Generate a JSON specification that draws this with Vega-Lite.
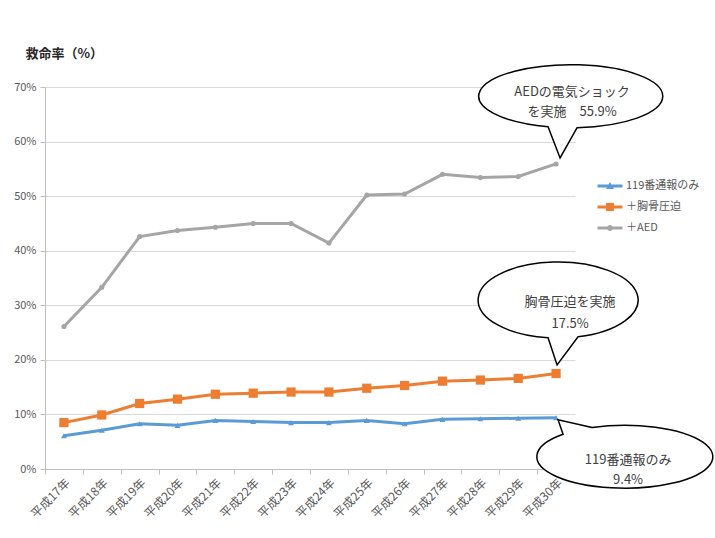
{
  "$schema": "https://vega.github.io/schema/vega-lite/v6.json",
  "width": 530,
  "height": 382,
  "autosize": {"type": "none"},
  "padding": {"left": 45, "top": 87, "right": 140, "bottom": 69},
  "background": "white",
  "config": {
    "view": {"stroke": null},
    "font": "Noto Sans CJK JP",
    "axis": {"labelColor": "#595959", "labelFontSize": 11, "domainColor": "#bfbfbf", "tickColor": "#bfbfbf", "tickSize": 5}
  },
  "data": {
    "values": [
      {"year": "平成17年", "series": "119番通報のみ", "value": 6.1},
      {"year": "平成18年", "series": "119番通報のみ", "value": 7.1},
      {"year": "平成19年", "series": "119番通報のみ", "value": 8.3},
      {"year": "平成20年", "series": "119番通報のみ", "value": 8.0},
      {"year": "平成21年", "series": "119番通報のみ", "value": 8.9},
      {"year": "平成22年", "series": "119番通報のみ", "value": 8.7},
      {"year": "平成23年", "series": "119番通報のみ", "value": 8.5},
      {"year": "平成24年", "series": "119番通報のみ", "value": 8.5},
      {"year": "平成25年", "series": "119番通報のみ", "value": 8.9},
      {"year": "平成26年", "series": "119番通報のみ", "value": 8.3},
      {"year": "平成27年", "series": "119番通報のみ", "value": 9.1},
      {"year": "平成28年", "series": "119番通報のみ", "value": 9.2},
      {"year": "平成29年", "series": "119番通報のみ", "value": 9.3},
      {"year": "平成30年", "series": "119番通報のみ", "value": 9.4},
      {"year": "平成17年", "series": "＋胸骨圧迫", "value": 8.5},
      {"year": "平成18年", "series": "＋胸骨圧迫", "value": 9.9},
      {"year": "平成19年", "series": "＋胸骨圧迫", "value": 12.0},
      {"year": "平成20年", "series": "＋胸骨圧迫", "value": 12.8},
      {"year": "平成21年", "series": "＋胸骨圧迫", "value": 13.7},
      {"year": "平成22年", "series": "＋胸骨圧迫", "value": 13.9},
      {"year": "平成23年", "series": "＋胸骨圧迫", "value": 14.1},
      {"year": "平成24年", "series": "＋胸骨圧迫", "value": 14.1},
      {"year": "平成25年", "series": "＋胸骨圧迫", "value": 14.8},
      {"year": "平成26年", "series": "＋胸骨圧迫", "value": 15.3},
      {"year": "平成27年", "series": "＋胸骨圧迫", "value": 16.1},
      {"year": "平成28年", "series": "＋胸骨圧迫", "value": 16.3},
      {"year": "平成29年", "series": "＋胸骨圧迫", "value": 16.6},
      {"year": "平成30年", "series": "＋胸骨圧迫", "value": 17.5},
      {"year": "平成17年", "series": "＋AED", "value": 26.1},
      {"year": "平成18年", "series": "＋AED", "value": 33.3},
      {"year": "平成19年", "series": "＋AED", "value": 42.6},
      {"year": "平成20年", "series": "＋AED", "value": 43.7},
      {"year": "平成21年", "series": "＋AED", "value": 44.3},
      {"year": "平成22年", "series": "＋AED", "value": 45.0},
      {"year": "平成23年", "series": "＋AED", "value": 45.0},
      {"year": "平成24年", "series": "＋AED", "value": 41.4},
      {"year": "平成25年", "series": "＋AED", "value": 50.2},
      {"year": "平成26年", "series": "＋AED", "value": 50.4},
      {"year": "平成27年", "series": "＋AED", "value": 54.0},
      {"year": "平成28年", "series": "＋AED", "value": 53.4},
      {"year": "平成29年", "series": "＋AED", "value": 53.6},
      {"year": "平成30年", "series": "＋AED", "value": 55.9}
    ]
  },
  "encoding": {
    "x": {
      "field": "year", "type": "ordinal", "sort": null,
      "scale": {"type": "band", "paddingInner": 0, "paddingOuter": 0},
      "axis": {"title": null, "labelAngle": -45, "tickBand": "extent", "grid": false, "labelPadding": 3, "labelFontSize": 12}
    },
    "y": {
      "field": "value", "type": "quantitative",
      "scale": {"domain": [0, 70], "nice": false},
      "axis": {
        "values": [0, 10, 20, 30, 40, 50, 60, 70],
        "labelExpr": "datum.value + '%'",
        "grid": true, "gridColor": "#d9d9d9",
        "labelPadding": 4,
        "title": "救命率（%）", "titleAngle": 0, "titleAlign": "left", "titleBaseline": "middle",
        "titleX": -20, "titleY": -34, "titleFontSize": 13, "titleFontWeight": "bold", "titleColor": "#262626"
      }
    }
  },
  "layer": [
    {
      "mark": {"type": "line", "strokeWidth": 3},
      "encoding": {
        "color": {
          "field": "series", "type": "nominal",
          "scale": {"domain": ["119番通報のみ", "＋胸骨圧迫", "＋AED"], "range": ["#5b9bd5", "#ed7d31", "#a5a5a5"]},
          "legend": {
            "title": null, "orient": "none", "legendX": 555, "legendY": 89,
            "symbolSize": 400, "labelOffset": 6, "rowPadding": 6, "labelFontSize": 11, "labelColor": "#595959",
            "encode": {
              "symbols": {
                "update": {
                  "shape": {"signal": "datum.value === '119番通報のみ' ? 'M-1.25,-0.15H1.25V0.15H-1.25Z M0,-0.4L0.4,0.3L-0.4,0.3Z' : datum.value === '＋胸骨圧迫' ? 'M-1.25,-0.15H1.25V0.15H-1.25Z M-0.4,-0.4H0.4V0.4H-0.4Z' : 'M-1.25,-0.15H1.25V0.15H-1.25Z M-0.3,0A0.3,0.3 0 1,1 0.3,0A0.3,0.3 0 1,1 -0.3,0Z'"},
                  "fill": {"scale": "color", "field": "value"},
                  "strokeWidth": {"value": 0},
                  "size": {"value": 400},
                  "opacity": {"value": 1}
                }
              }
            }
          }
        }
      }
    },
    {
      "transform": [{"filter": "datum.series === '119番通報のみ'"}],
      "mark": {"type": "point", "filled": true, "opacity": 1, "shape": "triangle-up", "size": 35, "color": "#5b9bd5"}
    },
    {
      "transform": [{"filter": "datum.series === '＋胸骨圧迫'"}],
      "mark": {"type": "point", "filled": true, "opacity": 1, "shape": "square", "size": 85, "color": "#ed7d31"}
    },
    {
      "transform": [{"filter": "datum.series === '＋AED'"}],
      "mark": {"type": "point", "filled": true, "opacity": 1, "shape": "circle", "size": 26, "color": "#a5a5a5"}
    },
    {
      "transform": [{"filter": "datum.year === '平成30年' && datum.series === '＋AED'"}],
      "mark": {"type": "point", "filled": true, "fill": "white", "stroke": "black", "strokeWidth": 1.5, "opacity": 1, "size": 4,
        "shape": "M-8,-37.2 L4,-6 L21,-36.3 A92,31.5 0 1,0 -8,-37.2 Z"}
    },
    {
      "transform": [{"filter": "datum.year === '平成30年' && datum.series === '＋胸骨圧迫'"}],
      "mark": {"type": "point", "filled": true, "fill": "white", "stroke": "black", "strokeWidth": 1.5, "opacity": 1, "size": 4,
        "shape": "M-8,-35.8 L1,-8.5 L22,-36.7 A80,38 0 1,0 -8,-35.8 Z"}
    },
    {
      "transform": [{"filter": "datum.year === '平成30年' && datum.series === '119番通報のみ'"}],
      "mark": {"type": "point", "filled": true, "fill": "white", "stroke": "black", "strokeWidth": 1.5, "opacity": 1, "size": 4,
        "shape": "M36,9.8 L2,2 L7,16.6 A88,31.5 0 1,0 36,9.8 Z"}
    },
    {
      "transform": [{"filter": "datum.year === '平成30年' && datum.series === '＋AED'"}],
      "mark": {"type": "text", "text": ["AEDの電気ショック", "を実施　55.9%"], "fontSize": 13, "lineHeight": 20, "align": "center", "baseline": "middle", "dx": 16, "dy": -72, "color": "#404040"}
    },
    {
      "transform": [{"filter": "datum.year === '平成30年' && datum.series === '＋胸骨圧迫'"}],
      "mark": {"type": "text", "text": ["胸骨圧迫を実施", "17.5%"], "fontSize": 13, "lineHeight": 22, "align": "center", "baseline": "middle", "dx": 14, "dy": -72, "color": "#404040"}
    },
    {
      "transform": [{"filter": "datum.year === '平成30年' && datum.series === '119番通報のみ'"}],
      "mark": {"type": "text", "text": ["119番通報のみ", "9.4%"], "fontSize": 13, "lineHeight": 20, "align": "center", "baseline": "middle", "dx": 72, "dy": 42, "color": "#404040"}
    }
  ]
}
